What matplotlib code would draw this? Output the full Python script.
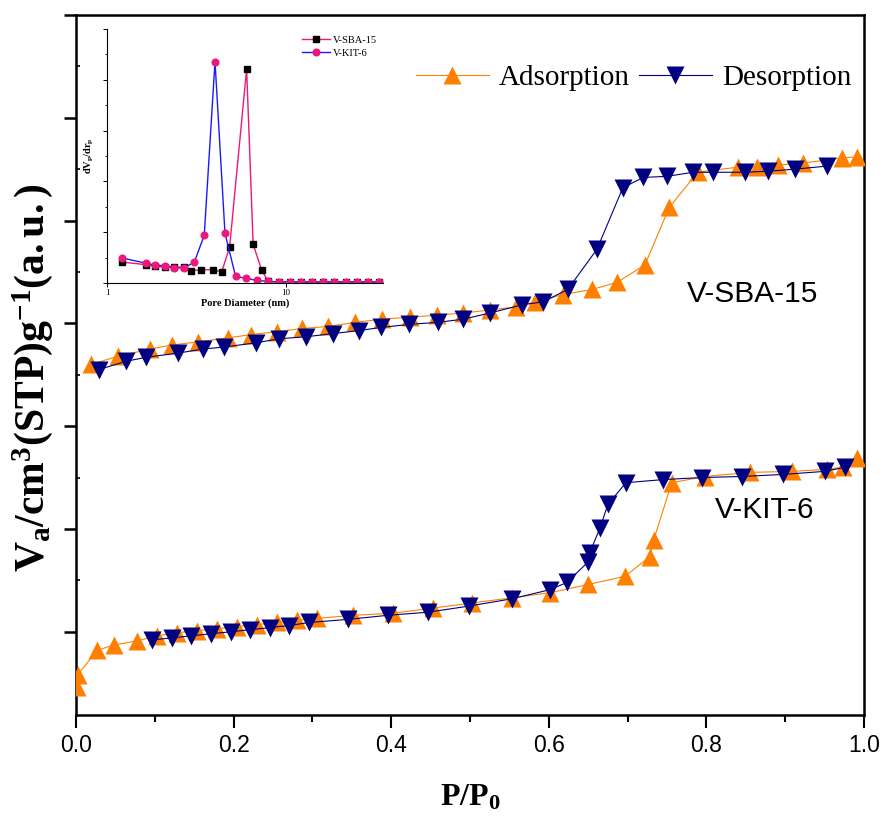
import matplotlib
matplotlib.use("Agg")
import matplotlib.pyplot as plt
from matplotlib import font_manager as fm
from matplotlib.ticker import MultipleLocator, FixedLocator, NullFormatter, NullLocator

names = {f.name for f in fm.fontManager.ttflist}
NARROW = 'Liberation Sans Narrow' in names
SANS = 'Liberation Sans Narrow' if NARROW else 'Liberation Sans'
SERIF = 'Liberation Serif'

plt.rcParams['mathtext.fontset'] = 'custom'
plt.rcParams['mathtext.rm'] = SERIF
plt.rcParams['mathtext.bf'] = SERIF + ':bold'
plt.rcParams['mathtext.it'] = SERIF + ':italic'

# ---------------- data ----------------
sba_ads_x = [0.019, 0.053, 0.094, 0.122, 0.155, 0.193, 0.222, 0.255, 0.287, 0.320, 0.354, 0.388,
             0.424, 0.458, 0.491, 0.525, 0.558, 0.582, 0.618, 0.655, 0.687, 0.722, 0.753, 0.789,
             0.840, 0.864, 0.891, 0.923, 0.972, 0.991]
sba_ads_y = [2.60, 2.68, 2.75, 2.79, 2.82, 2.86, 2.89, 2.92, 2.95, 2.97, 3.01, 3.04,
             3.06, 3.08, 3.10, 3.13, 3.16, 3.21, 3.28, 3.33, 3.40, 3.57, 4.13, 4.47,
             4.52, 4.52, 4.54, 4.56, 4.61, 4.62]

sba_des_x = [0.029, 0.063, 0.089, 0.129, 0.161, 0.188, 0.228, 0.258, 0.292, 0.326, 0.359, 0.387,
             0.423, 0.459, 0.491, 0.525, 0.566, 0.593, 0.624, 0.661, 0.694, 0.720, 0.750, 0.783,
             0.808, 0.849, 0.878, 0.912, 0.953]
sba_des_y = [2.55, 2.63, 2.67, 2.71, 2.75, 2.77, 2.81, 2.85, 2.87, 2.90, 2.93, 2.96,
             2.99, 3.01, 3.04, 3.10, 3.18, 3.21, 3.33, 3.72, 4.32, 4.42, 4.43, 4.47,
             4.47, 4.47, 4.48, 4.50, 4.53]

kit_ads_x = [0.001, 0.002, 0.027, 0.048, 0.077, 0.103, 0.128, 0.154, 0.179, 0.204, 0.230, 0.255,
             0.280, 0.306, 0.352, 0.402, 0.453, 0.503, 0.553, 0.602, 0.650, 0.697, 0.728, 0.733,
             0.756, 0.798, 0.855, 0.909, 0.953, 0.973, 0.991]
kit_ads_y = [-0.54, -0.42, -0.18, -0.13, -0.09, -0.04, -0.01, 0.01, 0.03, 0.05, 0.07, 0.09,
             0.11, 0.13, 0.16, 0.18, 0.23, 0.28, 0.33, 0.38, 0.46, 0.54, 0.73, 0.89,
             1.45, 1.51, 1.55, 1.56, 1.58, 1.60, 1.69]

kit_des_x = [0.096, 0.122, 0.146, 0.171, 0.197, 0.221, 0.246, 0.270, 0.296, 0.345, 0.396, 0.447,
             0.499, 0.553, 0.602, 0.623, 0.650, 0.652, 0.665, 0.675, 0.698, 0.745, 0.794, 0.845,
             0.897, 0.950, 0.976]
kit_des_y = [-0.08, -0.06, -0.04, -0.02, 0.00, 0.02, 0.04, 0.06, 0.09, 0.12, 0.16, 0.19,
             0.25, 0.32, 0.41, 0.48, 0.68, 0.77, 1.01, 1.24, 1.45, 1.48, 1.50, 1.51,
             1.53, 1.56, 1.60]

# inset: pore size distribution
psd_sba_x = [1.22, 1.65, 1.86, 2.10, 2.38, 2.71, 2.94, 3.36, 3.92, 4.38, 4.85, 6.04, 6.57, 7.32,
             7.97, 9.14, 10.5, 12.1, 14.0, 16.1, 18.6, 21.6, 25.1, 29.0, 33.4]
psd_sba_y = [0.41, 0.36, 0.33, 0.31, 0.31, 0.31, 0.24, 0.26, 0.26, 0.22, 0.70, 4.21, 0.76, 0.26,
             0.03, 0.02, 0.02, 0.02, 0.02, 0.02, 0.02, 0.02, 0.02, 0.02, 0.02]
psd_kit_x = [1.22, 1.65, 1.86, 2.10, 2.38, 2.71, 3.08, 3.50, 4.02, 4.57, 5.24, 6.01, 6.92,
             7.97, 9.14, 10.5, 12.1, 14.0, 16.1, 18.6, 21.6, 25.1, 29.0, 33.4]
psd_kit_y = [0.49, 0.39, 0.35, 0.34, 0.30, 0.30, 0.41, 0.94, 4.36, 0.98, 0.13, 0.09, 0.05,
             0.03, 0.02, 0.02, 0.02, 0.02, 0.02, 0.02, 0.02, 0.02, 0.02, 0.02]

x_ticks = [0.0, 0.2, 0.4, 0.6, 0.8, 1.0]
x_ticklabels = ['0.0', '0.2', '0.4', '0.6', '0.8', '1.0']

ORANGE = '#FF8000'
NAVY = '#000080'
PINK = '#F0177A'
BLUE = '#1A1AFF'

# ---------------- figure ----------------
fig = plt.figure(figsize=(8.85, 8.19), dpi=100)
ax = fig.add_axes([0.0859, 0.127, 0.8904, 0.8547])

ms = 13.5
ax.plot(sba_ads_x, sba_ads_y, '-', color=ORANGE, lw=0.8, marker='^', ms=ms, mec='none', label='Adsorption', zorder=3)
ax.plot(kit_ads_x, kit_ads_y, '-', color=ORANGE, lw=0.8, marker='^', ms=ms, mec='none', zorder=3)
ax.plot(sba_des_x, sba_des_y, '-', color=NAVY, lw=0.8, marker='v', ms=ms, mec='none', label='Desorption', zorder=4)
ax.plot(kit_des_x, kit_des_y, '-', color=NAVY, lw=0.8, marker='v', ms=ms, mec='none', zorder=4)

ax.set_xlim(0, 1)
ax.set_ylim(-0.81, 6.0)
ax.xaxis.set_major_locator(FixedLocator(x_ticks))
ax.set_xticklabels(x_ticklabels)
ax.xaxis.set_minor_locator(MultipleLocator(0.1))
ax.yaxis.set_major_locator(MultipleLocator(1))
ax.yaxis.set_minor_locator(MultipleLocator(0.5))
ax.yaxis.set_major_formatter(NullFormatter())
ax.tick_params(axis='x', which='major', direction='out', length=9, width=1.5, pad=5,
               top=False, labelsize=19 if NARROW else 16.5)
ax.tick_params(axis='x', which='minor', direction='out', length=5, width=1.5, top=False)
ax.tick_params(axis='y', which='major', direction='out', length=9, width=1.8, right=False)
ax.tick_params(axis='y', which='minor', direction='in', length=3, width=1.2, right=False)
for lab in ax.get_xticklabels():
    lab.set_fontfamily(SANS)
for s in ax.spines.values():
    s.set_linewidth(1.8)

ax.text(0.859, 3.29, 'V-SBA-15', fontsize=25 if NARROW else 21.5, family=SANS, ha='center', va='center')
ax.text(0.874, 1.18, 'V-KIT-6', fontsize=25 if NARROW else 21.5, family=SANS, ha='center', va='center')

leg = ax.legend(loc='center', bbox_to_anchor=(0.716, 0.905), bbox_transform=fig.transFigure,
                ncol=2, frameon=False, prop={'family': SERIF, 'size': 21},
                handlelength=2.5, handletextpad=0.35, columnspacing=0.3, markerscale=1.0)

fig.text(470 / 885, 1 - 797 / 819, r'$\mathbf{P/P_0}$', fontsize=23, ha='center', va='center')
fig.text(33 / 885, 1 - 378 / 819, r'$\mathbf{V_a/cm^3(STP)g^{-1}(a.u.)}$', fontsize=30,
         rotation=90, ha='center', va='center')

# ---------------- inset ----------------
ia = fig.add_axes([0.1209, 0.6545, 0.3119, 0.3101])
ia.plot(psd_sba_x, psd_sba_y, '-', color=PINK, lw=1.0, marker='s', ms=4.3, mfc='black', mec='black', label='V-SBA-15')
ia.plot(psd_kit_x, psd_kit_y, '-', color=BLUE, lw=1.0, marker='o', ms=4.8, mfc=PINK, mec=PINK, label='V-KIT-6')
ia.set_xscale('log')
ia.set_xlim(1, 35)
ia.set_ylim(0, 5)
ia.spines['top'].set_visible(False)
ia.spines['right'].set_visible(False)
ia.spines['left'].set_linewidth(0.8)
ia.spines['bottom'].set_linewidth(0.8)
ia.xaxis.set_major_locator(FixedLocator([1, 10]))
ia.set_xticklabels(['1', '10'])
ia.xaxis.set_minor_locator(NullLocator())
ia.yaxis.set_major_locator(MultipleLocator(1))
ia.yaxis.set_minor_locator(MultipleLocator(0.5))
ia.yaxis.set_major_formatter(NullFormatter())
ia.tick_params(axis='both', which='major', direction='out', length=3, width=0.7, labelsize=6.5, pad=1)
ia.tick_params(axis='y', which='minor', direction='out', length=1.5, width=0.6)
for lab in ia.get_xticklabels():
    lab.set_fontfamily(SERIF)
ia.set_xlabel('Pore Diameter (nm)', fontsize=7.5, family=SERIF, fontweight='bold', labelpad=1)
ia.set_ylabel(r'$\mathbf{dV_p/dr_p}$', fontsize=7.5, labelpad=3)
ia.legend(loc='upper right', frameon=False, prop={'family': SERIF, 'size': 7.5},
          handlelength=2.6, handletextpad=0.3, borderaxespad=0.2, labelspacing=0.4)

fig.savefig('out.png', dpi=100)
